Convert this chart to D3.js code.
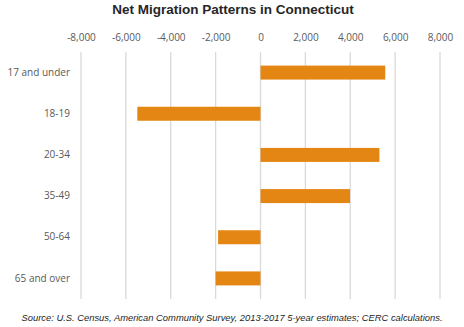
<!DOCTYPE html>
<html>
<head>
<meta charset="utf-8">
<script src="https://cdn.jsdelivr.net/npm/d3@7"></script>
<style>
  body { margin: 0; background: #fff; }
  svg { display: block; }
</style>
</head>
<body>
<div id="chart"></div>
<script>
// data
var groups = ["17 and under", "18-19", "20-34", "35-49", "50-64", "65 and over"];
var netMigration = [5560, -5490, 5300, 3990, -1890, -2000];
var tickValues = [-8000, -6000, -4000, -2000, 0, 2000, 4000, 6000, 8000];

var W = 464, H = 327;
var plotLeft = 81, plotRight = 440, plotTop = 52, plotBottom = 299;

var svg = d3.select("#chart").append("svg")
    .attr("width", W)
    .attr("height", H);

var x = d3.scaleLinear().domain([-8000, 8000]).range([plotLeft, plotRight]);
var y = d3.scaleBand().domain(groups).range([plotTop, plotBottom]).paddingInner(0.66).paddingOuter(0.33);

// hyphen instead of unicode minus, like the original
var fmt = function(d) { return d3.format(",")(d).replace("\u2212", "-"); };

// title
svg.append("text")
    .attr("x", 233).attr("y", 14)
    .attr("text-anchor", "middle")
    .style("font-family", "Liberation Sans, Arial, sans-serif")
    .style("font-weight", "bold")
    .style("font-size", "13.5px")
    .attr("fill", "#262626")
    .text("Net Migration Patterns in Connecticut");

// grid lines
svg.append("g")
    .selectAll("line")
    .data(tickValues)
    .enter()
    .append("line")
    .attr("x1", d => x(d)).attr("x2", d => x(d))
    .attr("y1", plotTop).attr("y2", plotBottom)
    .attr("stroke", "#d9d9d9")
    .attr("stroke-width", 1.3);

// top axis labels
var xAxis = d3.axisTop(x).tickValues(tickValues).tickSize(0).tickPadding(0)
    .tickFormat(fmt);
var gx = svg.append("g").attr("transform", "translate(0,41)").call(xAxis);
gx.select(".domain").remove();
gx.selectAll("text")
    .style("font-family", "Open Sans, sans-serif")
    .style("font-size", "10px")
    .attr("fill", "#595959");

// bars
svg.append("g")
    .selectAll("rect")
    .data(groups)
    .enter()
    .append("rect")
    .attr("x", (d, i) => x(Math.min(0, netMigration[i])))
    .attr("width", (d, i) => Math.abs(x(netMigration[i]) - x(0)))
    .attr("y", d => y(d))
    .attr("height", y.bandwidth())
    .attr("fill", "#e48614");

// category labels
var yAxis = d3.axisLeft(y).tickSize(0).tickPadding(0);
var gy = svg.append("g").attr("transform", "translate(70,0)").call(yAxis);
gy.select(".domain").remove();
gy.selectAll("text")
    .style("font-family", "Open Sans, sans-serif")
    .style("font-size", "10px")
    .attr("fill", "#595959");

// source note
svg.append("text")
    .attr("x", 232).attr("y", 321)
    .attr("text-anchor", "middle")
    .style("font-family", "Liberation Sans, Arial, sans-serif")
    .style("font-style", "italic")
    .style("font-size", "9.4px")
    .attr("fill", "#262626")
    .text("Source: U.S. Census, American Community Survey, 2013-2017 5-year estimates; CERC calculations.");
</script>
</body>
</html>
